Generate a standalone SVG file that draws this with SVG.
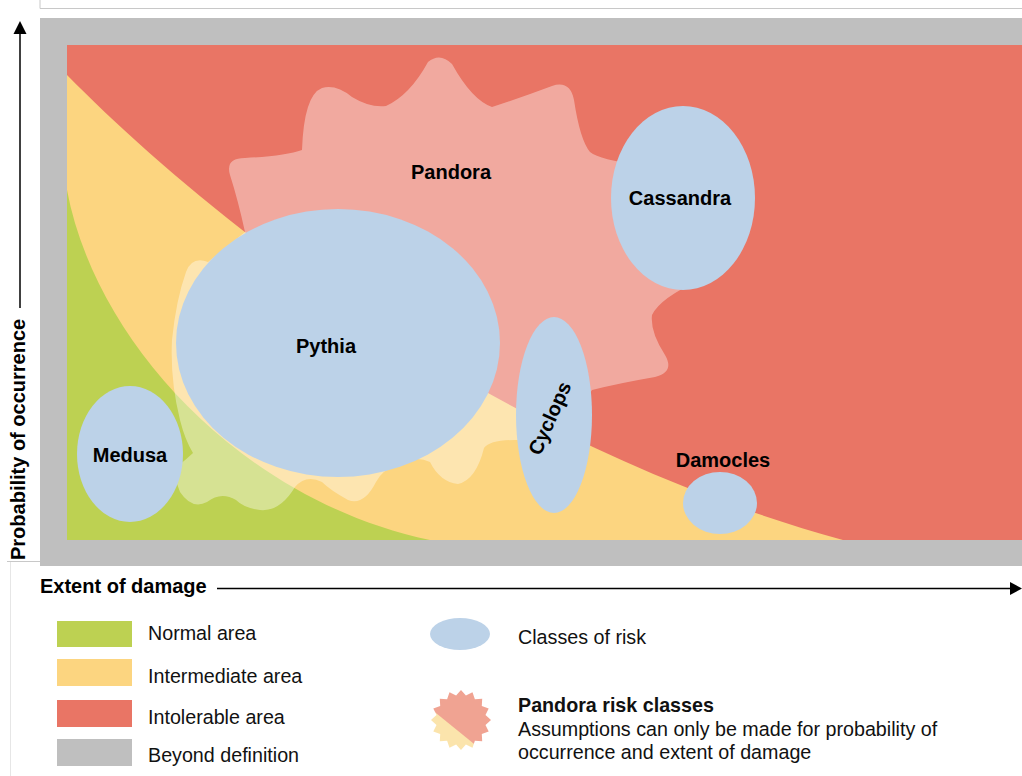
<svg xmlns="http://www.w3.org/2000/svg" width="1022" height="776" viewBox="0 0 1022 776">
<style>
.lbl{font-family:"Liberation Sans",Arial,sans-serif;font-weight:bold;font-size:20px;fill:#000;text-anchor:middle}
.leg{font-family:"Liberation Sans",Arial,sans-serif;font-size:19.7px;fill:#111}
.axis{font-family:"Liberation Sans",Arial,sans-serif;font-weight:bold;font-size:20px;fill:#000}
.risk{fill:#BCD2E8}
</style>
<defs>
<clipPath id="starclip">
<polygon points="461,690 465.9,695.5 472.5,692.3 474.9,699.2 482.2,698.8 481.8,706.1 488.7,708.5 485.5,715.1 491,720 485.5,724.9 488.7,731.5 481.8,733.9 482.2,741.2 474.9,740.8 472.5,747.7 465.9,744.5 461,750 456.1,744.5 449.5,747.7 447.1,740.8 439.8,741.2 440.2,733.9 433.3,731.5 436.5,724.9 431,720 436.5,715.1 433.3,708.5 440.2,706.1 439.8,698.8 447.1,699.2 449.5,692.3 456.1,695.5"/>
</clipPath>
</defs>
<rect width="1022" height="776" fill="#fff"/>
<!-- frame lines -->
<g fill="none" stroke="#C8C8C8" stroke-width="1">
<polyline points="40,0 40,8.5 1022,8.5"/>
<polyline points="7,561.5 40,561.5"/>
<line x1="10.5" y1="562" x2="10.5" y2="776" stroke="#E6E6E6"/>
</g>
<!-- chart areas -->
<g id="areas">
<rect x="40" y="18" width="982" height="548" fill="#BFBFBF"/>
<rect x="67" y="45" width="955" height="495" fill="#E97565"/>
<path d="M67,75 C200,210 480,440 843,540 L67,540 Z" fill="#FCD580"/>
<path d="M67,190 C95,340 240,500 430,540 L67,540 Z" fill="#BDD152"/>
</g>
<g id="pandora">
<path d="M230,175 Q225,158 245,158 Q285,156 302,150 Q304,95 322,88 Q336,84 352,97 Q370,108 386,106 Q410,95 428,62 Q440,52 452,64 Q472,100 492,107 Q520,98 552,86 Q570,80 574,100 Q580,140 590,152 Q600,160 640,165 L700,280 Q660,298 652,315 Q650,332 665,355 Q675,372 655,377 Q620,383 592,390 L560,440 L515,440 Q490,440 484,448 Q476,480 458,484 Q440,482 430,462 Q415,455 397,465 Q382,470 376,482 Q364,506 348,500 Q330,490 322,482 Q306,474 295,487 Q280,512 260,510 Q244,508 236,500 Q221,491 207,502 Q192,510 180,492 L172,470 Q180,465 193,453 Q185,440 180,420 Q170,380 172,340 Q176,300 186,272 Q192,256 208,262 L245,232 Q238,200 230,175 Z" fill="#FFFFFF" fill-opacity="0.38"/>
<text class="lbl" x="451" y="179">Pandora</text>
</g>
<g id="pythia">
<ellipse class="risk" cx="338" cy="343" rx="162" ry="134"/>
<text class="lbl" x="326" y="353">Pythia</text>
</g>
<g id="cassandra">
<ellipse class="risk" cx="683" cy="198" rx="72" ry="92"/>
<text class="lbl" x="680" y="205">Cassandra</text>
</g>
<g id="medusa">
<ellipse class="risk" cx="130" cy="454" rx="53" ry="68"/>
<text class="lbl" x="130" y="462">Medusa</text>
</g>
<g id="cyclops">
<ellipse class="risk" cx="554" cy="415" rx="38" ry="98"/>
<text class="lbl" transform="translate(556,421) rotate(-66)" x="0" y="0">Cyclops</text>
</g>
<g id="damocles">
<ellipse class="risk" cx="720" cy="503" rx="37" ry="31"/>
<text class="lbl" x="723" y="467">Damocles</text>
</g>
<!-- axes -->
<g id="connectors" stroke="#000" stroke-width="1.5" fill="none">
<line x1="20" y1="308" x2="20" y2="32"/>
<line x1="217" y1="588.5" x2="1011" y2="588.5"/>
</g>
<g id="arrowheads" fill="#000">
<polygon points="20,21 13.5,34 26.5,34"/>
<polygon points="1022,588.5 1010,582 1010,595"/>
</g>
<text class="axis" transform="translate(25,560) rotate(-90)">Probability of occurrence</text>
<text class="axis" x="40" y="593">Extent of damage</text>
<!-- legend -->
<g id="legend">
<rect x="57" y="621" width="75" height="26" fill="#BDD152"/>
<rect x="57" y="659" width="75" height="27" fill="#FCD580"/>
<rect x="57" y="700" width="75" height="27" fill="#E97565"/>
<rect x="57" y="739" width="75" height="27" fill="#BFBFBF"/>
<text class="leg" x="148" y="640">Normal area</text>
<text class="leg" x="148" y="683">Intermediate area</text>
<text class="leg" x="148" y="724">Intolerable area</text>
<text class="leg" x="148" y="762">Beyond definition</text>
<ellipse class="risk" cx="460" cy="634" rx="30" ry="16"/>
<text class="leg" x="518" y="644">Classes of risk</text>
<g clip-path="url(#starclip)" opacity="0.9">
<rect x="425" y="685" width="70" height="70" fill="#EF9A87"/>
<polygon points="420,700 500,765 420,765" fill="#FBE2A3"/>
<polygon points="420,722 462,765 420,765" fill="#D2E08E"/>
</g>
<text class="leg" x="518" y="712" font-weight="bold" font-size="20">Pandora risk classes</text>
<text class="leg" x="518" y="736">Assumptions can only be made for probability of</text>
<text class="leg" x="518" y="759">occurrence and extent of damage</text>
</g>
</svg>
